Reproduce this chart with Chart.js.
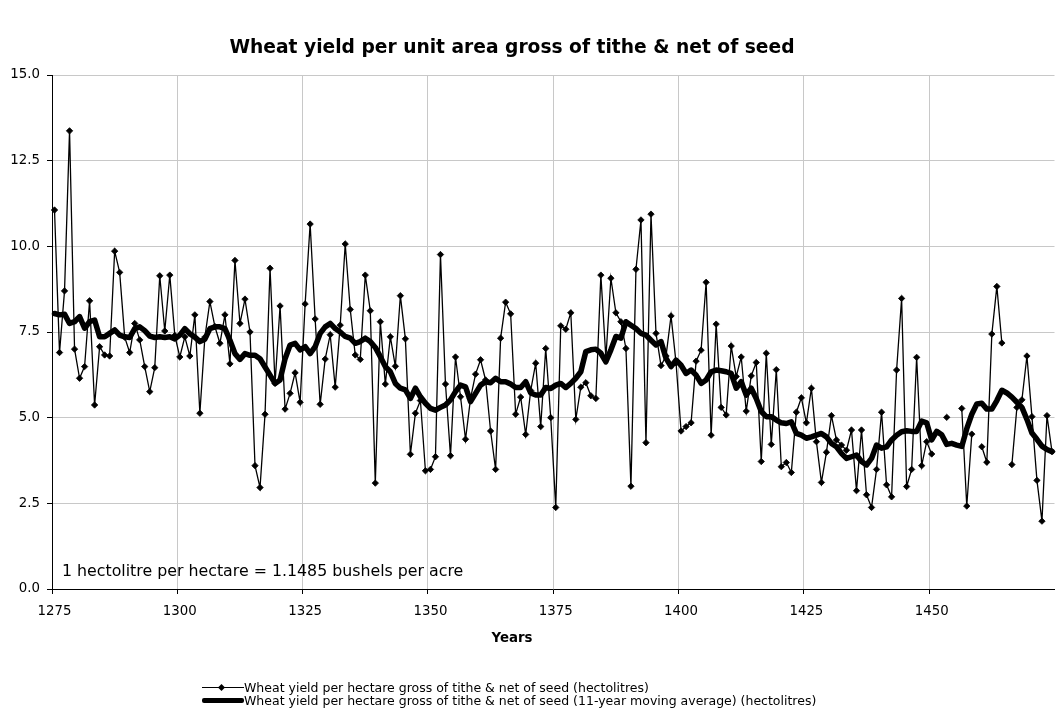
<!DOCTYPE html>
<html>
<head>
<meta charset="utf-8">
<script src="https://cdn.jsdelivr.net/npm/chart.js@4.4.1/dist/chart.umd.min.js"></script>
<style>
body{margin:0;background:#fff;font-family:"DejaVu Sans",sans-serif;color:#000;}
#wrap{position:relative;width:1062px;height:713px;}
#chart{position:absolute;left:0;top:0;}
#title{position:absolute;left:0;width:1024px;top:36px;height:22px;line-height:22px;text-align:center;font-weight:bold;font-size:18.67px;white-space:nowrap;}
#note{position:absolute;left:62px;top:561px;font-size:15.8px;white-space:nowrap;}
#xtitle{position:absolute;left:0;width:1024px;top:630px;text-align:center;font-weight:bold;font-size:13.33px;}
.leg{position:absolute;left:202px;height:13px;line-height:13px;font-size:12.5px;white-space:nowrap;}
.leg .sw{display:inline-block;position:relative;width:42px;height:13px;vertical-align:top;}
.leg .thin{position:absolute;left:0;top:6px;width:42px;height:1px;background:#000;}
.leg .dia{position:absolute;left:17px;top:4px;width:5px;height:5px;background:#000;transform:rotate(45deg);}
.leg .thick{position:absolute;left:0;top:4px;width:42px;height:5px;background:#000;border-radius:2px;}
</style>
</head>
<body>
<div id="wrap">
  <canvas id="chart" width="1062" height="713"></canvas>
  <div id="title">Wheat yield per unit area gross of tithe &amp; net of seed</div>
  <div id="note">1 hectolitre per hectare = 1.1485 bushels per acre</div>
  <div id="xtitle">Years</div>
  <div class="leg" style="top:681px"><span class="sw"><i class="thin"></i><i class="dia"></i></span>Wheat yield per hectare gross of tithe &amp; net of seed (hectolitres)</div>
  <div class="leg" style="top:694px"><span class="sw"><i class="thick"></i></span>Wheat yield per hectare gross of tithe &amp; net of seed (11-year moving average) (hectolitres)</div>
</div>
<script>
// yearly values, 1275 .. 1474 (null = no record)
const yieldRaw = [
  11.06, 6.9, 8.7, 13.37, 7.0, 6.15, 6.49, 8.41, 5.37, 7.07,
  6.83, 6.8, 9.86, 9.24, 7.35, 6.9, 7.75, 7.27, 6.49, 5.76,
  6.46, 9.14, 7.53, 9.16, 7.4, 6.77, 7.36, 6.8, 8.0, 5.13,
  7.35, 8.39, 7.66, 7.17, 8.0, 6.57, 9.59, 7.75, 8.46, 7.5,
  3.6, 2.96, 5.1, 9.36, 6.0, 8.26, 5.25, 5.71, 6.31, 5.45,
  8.32, 10.65, 7.88, 5.39, 6.71, 7.42, 5.89, 7.7, 10.07, 8.16,
  6.83, 6.7, 9.16, 8.12, 3.09, 7.8, 5.98, 7.36, 6.5, 8.56,
  7.3, 3.93, 5.13, 5.5, 3.45, 3.49, 3.86, 9.76, 5.98, 3.89,
  6.77, 5.61, 4.37, 5.56, 6.27, 6.69, 6.1, 4.61, 3.49, 7.32,
  8.37, 8.03, 5.1, 5.6, 4.51, 5.79, 6.59, 4.74, 7.02, 5.0,
  2.38, 7.68, 7.58, 8.06, 4.95, 5.89, 6.02, 5.64, 5.56, 9.16,
  6.75, 9.07, 8.06, 7.8, 7.02, 3.0, 9.33, 10.77, 4.27, 10.94,
  7.46, 6.52, 6.8, 7.97, 6.6, 4.61, 4.74, 4.85, 6.65, 6.97,
  8.95, 4.49, 7.73, 5.3, 5.08, 7.09, 6.2, 6.77, 5.19, 6.22,
  6.61, 3.72, 6.88, 4.22, 6.4, 3.57, 3.69, 3.4, 5.16, 5.58,
  4.85, 5.86, 4.3, 3.11, 3.99, 5.06, 4.35, 4.2, 4.05, 4.64,
  2.87, 4.64, 2.75, 2.38, 3.49, 5.16, 3.04, 2.69, 6.39, 8.48,
  2.99, 3.49, 6.76, 3.6, 4.3, 3.94, null, null, 5.01, null,
  null, 5.27, 2.42, 4.52, null, 4.15, 3.7, 7.44, 8.83, 7.18,
  null, 3.63, 5.3, 5.52, 6.8, 5.03, 3.17, 1.98, 5.06, 4.01
];

// 11-year moving average, same years
const yieldAvg = [
  8.04, 8.0, 8.02, 7.75, 7.8, 7.95, 7.61, 7.8, 7.85, 7.36,
  7.36, 7.46, 7.56, 7.41, 7.36, 7.34, 7.6, 7.65, 7.54, 7.38,
  7.34, 7.36, 7.34, 7.36, 7.3, 7.41, 7.6, 7.45, 7.35, 7.22,
  7.29, 7.6, 7.65, 7.65, 7.6, 7.26, 6.87, 6.7, 6.87, 6.82,
  6.82, 6.72, 6.48, 6.24, 6.0, 6.1, 6.72, 7.12, 7.17, 6.98,
  7.07, 6.87, 7.07, 7.46, 7.65, 7.75, 7.6, 7.5, 7.37, 7.32,
  7.17, 7.22, 7.32, 7.22, 7.05, 6.78, 6.49, 6.34, 6.0, 5.86,
  5.81, 5.56, 5.86, 5.61, 5.42, 5.27, 5.22, 5.3, 5.37, 5.52,
  5.76, 5.95, 5.9, 5.47, 5.71, 5.95, 6.05, 6.02, 6.15, 6.05,
  6.05, 5.98, 5.88, 5.88, 6.05, 5.72, 5.66, 5.66, 5.88, 5.85,
  5.95, 6.0, 5.88, 6.0, 6.15, 6.34, 6.93, 6.98, 7.0, 6.88,
  6.63, 6.98, 7.37, 7.32, 7.8, 7.7, 7.6, 7.46, 7.41, 7.26,
  7.12, 7.22, 6.73, 6.49, 6.68, 6.53, 6.29, 6.39, 6.24, 6.0,
  6.1, 6.34, 6.39, 6.37, 6.34, 6.29, 5.86, 6.05, 5.66, 5.86,
  5.56, 5.18, 5.03, 5.03, 4.93, 4.85, 4.83, 4.88, 4.54, 4.49,
  4.4, 4.44, 4.49, 4.54, 4.44, 4.25, 4.15, 3.96, 3.81, 3.86,
  3.91, 3.72, 3.62, 3.81, 4.2, 4.11, 4.15, 4.35, 4.49, 4.59,
  4.62, 4.6, 4.6, 4.9, 4.85, 4.35, 4.6, 4.5, 4.22, 4.25,
  4.2, 4.16, 4.68, 5.1, 5.4, 5.42, 5.25, 5.25, 5.5, 5.8,
  5.72, 5.6, 5.45, 5.3, 4.95, 4.55, 4.37, 4.17, 4.07, 4.01
];

const firstYear = 1275;
const years = yieldRaw.map((v, i) => firstYear + i);
const labelYears = [1275, 1300, 1325, 1350, 1375, 1400, 1425, 1450];

const GRID = '#c8c8c8';

Chart.defaults.font.family = '"DejaVu Sans", sans-serif';
Chart.defaults.color = '#000';

// only the labelled years get a grid line / tick mark
function onLabelled(ctx, col) {
    return ctx.tick && ctx.tick.label !== '' ? col : 'rgba(0,0,0,0)';
}

new Chart(document.getElementById('chart'), {
    type: 'line',
    data: {
        labels: years,
        datasets: [{
            label: 'Wheat yield per hectare gross of tithe & net of seed (hectolitres)',
            data: yieldRaw,
            borderColor: '#000',
            backgroundColor: '#000',
            borderWidth: 1.3,
            pointStyle: 'rectRot',
            pointRadius: 3.2,
            pointBorderWidth: 0.8,
            tension: 0,
            spanGaps: false
        }, {
            label: 'Wheat yield per hectare gross of tithe & net of seed (11-year moving average) (hectolitres)',
            data: yieldAvg,
            borderColor: '#000',
            borderWidth: 5.5,
            pointRadius: 0,
            borderJoinStyle: 'round',
            borderCapStyle: 'round',
            tension: 0
        }]
    },
    options: {
        responsive: false,
        animation: false,
        layout: {padding: {left: 0, right: 1, top: 75, bottom: 83}},
        plugins: {
            legend: {display: false},
            tooltip: {enabled: false},
            title: {display: false}
        },
        scales: {
            x: {
                type: 'category',
                offset: true,
                grid: {
                    offset: true,
                    color: ctx => onLabelled(ctx, GRID),
                    tickColor: ctx => onLabelled(ctx, '#000'),
                    tickLength: 5
                },
                border: {color: '#000', width: 1},
                ticks: {
                    autoSkip: false,
                    maxRotation: 0,
                    minRotation: 0,
                    padding: 10,
                    font: {size: 13.33},
                    callback: function (value) {
                        const yr = this.getLabelForValue(value);
                        return labelYears.includes(yr) ? String(yr) : '';
                    }
                }
            },
            y: {
                min: 0,
                max: 15,
                grid: {color: GRID, tickColor: '#000', tickLength: 5},
                border: {color: '#000', width: 1},
                ticks: {
                    stepSize: 2.5,
                    padding: 7,
                    font: {size: 13.33},
                    callback: v => v.toFixed(1)
                },
                afterFit: s => { s.width = 52; }
            }
        }
    }
});
</script>
</body>
</html>
